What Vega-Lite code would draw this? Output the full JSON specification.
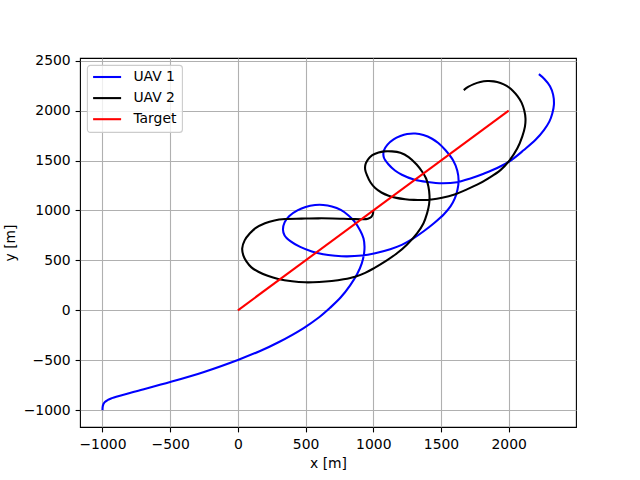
{
  "$schema": "https://vega.github.io/schema/vega-lite/v6.json",
  "width": 496,
  "height": 369,
  "autosize": {"type": "none"},
  "padding": {"left": 80, "top": 58, "right": 64, "bottom": 53},
  "background": "white",
  "config": {
    "view": {"stroke": "black", "strokeWidth": 1.1},
    "font": "DejaVu Sans",
    "axis": {
      "domain": false,
      "grid": true,
      "gridColor": "#b0b0b0",
      "gridWidth": 1.1,
      "ticks": true,
      "tickColor": "black",
      "tickSize": 4.9,
      "tickWidth": 1.1,
      "labelFont": "DejaVu Sans",
      "labelFontSize": 13.9,
      "labelColor": "black",
      "titleFont": "DejaVu Sans",
      "titleFontSize": 13.9,
      "titleFontWeight": "normal",
      "titleColor": "black",
      "format": "d"
    },
    "legend": {
      "orient": "none",
      "legendX": 7,
      "legendY": 7,
      "fillColor": "rgba(255,255,255,0.8)",
      "strokeColor": "#cccccc",
      "strokeWidth": 1.1,
      "cornerRadius": 3,
      "padding": 5,
      "symbolType": "M-1,0H3.75",
      "symbolSize": 139,
      "symbolStrokeWidth": 2.08,
      "labelFont": "DejaVu Sans",
      "labelFontSize": 13.9,
      "labelColor": "black",
      "labelOffset": 27.4,
      "rowPadding": 7.1
    }
  },
  "data": {
    "values": [
      {"series": "UAV 1", "i": 0, "x": -1000, "y": -1000},
      {"series": "UAV 1", "i": 1, "x": -997, "y": -955},
      {"series": "UAV 1", "i": 2, "x": -985, "y": -922},
      {"series": "UAV 1", "i": 3, "x": -960, "y": -898},
      {"series": "UAV 1", "i": 4, "x": -930, "y": -880},
      {"series": "UAV 1", "i": 5, "x": -898, "y": -865},
      {"series": "UAV 1", "i": 6, "x": -750, "y": -810},
      {"series": "UAV 1", "i": 7, "x": -500, "y": -718},
      {"series": "UAV 1", "i": 8, "x": -250, "y": -617},
      {"series": "UAV 1", "i": 9, "x": 0, "y": -497},
      {"series": "UAV 1", "i": 10, "x": 160, "y": -410},
      {"series": "UAV 1", "i": 11, "x": 300, "y": -320},
      {"series": "UAV 1", "i": 12, "x": 483, "y": -180},
      {"series": "UAV 1", "i": 13, "x": 600, "y": -70},
      {"series": "UAV 1", "i": 14, "x": 681, "y": 25},
      {"series": "UAV 1", "i": 15, "x": 760, "y": 130},
      {"series": "UAV 1", "i": 16, "x": 829, "y": 250},
      {"series": "UAV 1", "i": 17, "x": 880, "y": 360},
      {"series": "UAV 1", "i": 18, "x": 915, "y": 470},
      {"series": "UAV 1", "i": 19, "x": 932, "y": 570},
      {"series": "UAV 1", "i": 20, "x": 935, "y": 640},
      {"series": "UAV 1", "i": 21, "x": 928, "y": 720},
      {"series": "UAV 1", "i": 22, "x": 903, "y": 800},
      {"series": "UAV 1", "i": 23, "x": 860, "y": 890},
      {"series": "UAV 1", "i": 24, "x": 817, "y": 950},
      {"series": "UAV 1", "i": 25, "x": 760, "y": 1005},
      {"series": "UAV 1", "i": 26, "x": 694, "y": 1040},
      {"series": "UAV 1", "i": 27, "x": 630, "y": 1055},
      {"series": "UAV 1", "i": 28, "x": 570, "y": 1054},
      {"series": "UAV 1", "i": 29, "x": 500, "y": 1035},
      {"series": "UAV 1", "i": 30, "x": 440, "y": 1000},
      {"series": "UAV 1", "i": 31, "x": 380, "y": 945},
      {"series": "UAV 1", "i": 32, "x": 345, "y": 880},
      {"series": "UAV 1", "i": 33, "x": 333, "y": 810},
      {"series": "UAV 1", "i": 34, "x": 345, "y": 750},
      {"series": "UAV 1", "i": 35, "x": 390, "y": 690},
      {"series": "UAV 1", "i": 36, "x": 460, "y": 635},
      {"series": "UAV 1", "i": 37, "x": 546, "y": 590},
      {"series": "UAV 1", "i": 38, "x": 630, "y": 562},
      {"series": "UAV 1", "i": 39, "x": 718, "y": 547},
      {"series": "UAV 1", "i": 40, "x": 800, "y": 540},
      {"series": "UAV 1", "i": 41, "x": 915, "y": 548},
      {"series": "UAV 1", "i": 42, "x": 1014, "y": 572},
      {"series": "UAV 1", "i": 43, "x": 1125, "y": 612},
      {"series": "UAV 1", "i": 44, "x": 1210, "y": 655},
      {"series": "UAV 1", "i": 45, "x": 1290, "y": 715},
      {"series": "UAV 1", "i": 46, "x": 1372, "y": 792},
      {"series": "UAV 1", "i": 47, "x": 1450, "y": 875},
      {"series": "UAV 1", "i": 48, "x": 1520, "y": 960},
      {"series": "UAV 1", "i": 49, "x": 1570, "y": 1040},
      {"series": "UAV 1", "i": 50, "x": 1602, "y": 1120},
      {"series": "UAV 1", "i": 51, "x": 1622, "y": 1210},
      {"series": "UAV 1", "i": 52, "x": 1630, "y": 1300},
      {"series": "UAV 1", "i": 53, "x": 1620, "y": 1400},
      {"series": "UAV 1", "i": 54, "x": 1590, "y": 1500},
      {"series": "UAV 1", "i": 55, "x": 1532, "y": 1605},
      {"series": "UAV 1", "i": 56, "x": 1480, "y": 1675},
      {"series": "UAV 1", "i": 57, "x": 1434, "y": 1718},
      {"series": "UAV 1", "i": 58, "x": 1370, "y": 1755},
      {"series": "UAV 1", "i": 59, "x": 1310, "y": 1770},
      {"series": "UAV 1", "i": 60, "x": 1250, "y": 1765},
      {"series": "UAV 1", "i": 61, "x": 1200, "y": 1745},
      {"series": "UAV 1", "i": 62, "x": 1150, "y": 1712},
      {"series": "UAV 1", "i": 63, "x": 1105, "y": 1660},
      {"series": "UAV 1", "i": 64, "x": 1078, "y": 1600},
      {"series": "UAV 1", "i": 65, "x": 1078, "y": 1530},
      {"series": "UAV 1", "i": 66, "x": 1113, "y": 1460},
      {"series": "UAV 1", "i": 67, "x": 1160, "y": 1400},
      {"series": "UAV 1", "i": 68, "x": 1211, "y": 1358},
      {"series": "UAV 1", "i": 69, "x": 1300, "y": 1310},
      {"series": "UAV 1", "i": 70, "x": 1400, "y": 1285},
      {"series": "UAV 1", "i": 71, "x": 1508, "y": 1272},
      {"series": "UAV 1", "i": 72, "x": 1619, "y": 1283},
      {"series": "UAV 1", "i": 73, "x": 1717, "y": 1320},
      {"series": "UAV 1", "i": 74, "x": 1815, "y": 1368},
      {"series": "UAV 1", "i": 75, "x": 1915, "y": 1425},
      {"series": "UAV 1", "i": 76, "x": 2020, "y": 1505},
      {"series": "UAV 1", "i": 77, "x": 2112, "y": 1605},
      {"series": "UAV 1", "i": 78, "x": 2200, "y": 1710},
      {"series": "UAV 1", "i": 79, "x": 2260, "y": 1805},
      {"series": "UAV 1", "i": 80, "x": 2300, "y": 1890},
      {"series": "UAV 1", "i": 81, "x": 2322, "y": 1972},
      {"series": "UAV 1", "i": 82, "x": 2334, "y": 2060},
      {"series": "UAV 1", "i": 83, "x": 2328, "y": 2160},
      {"series": "UAV 1", "i": 84, "x": 2305, "y": 2245},
      {"series": "UAV 1", "i": 85, "x": 2265, "y": 2315},
      {"series": "UAV 1", "i": 86, "x": 2223, "y": 2365},

      {"series": "UAV 2", "i": 0, "x": 1000, "y": 1005},
      {"series": "UAV 2", "i": 1, "x": 997, "y": 965},
      {"series": "UAV 2", "i": 2, "x": 985, "y": 935},
      {"series": "UAV 2", "i": 3, "x": 960, "y": 918},
      {"series": "UAV 2", "i": 4, "x": 920, "y": 912},
      {"series": "UAV 2", "i": 5, "x": 841, "y": 914},
      {"series": "UAV 2", "i": 6, "x": 700, "y": 920},
      {"series": "UAV 2", "i": 7, "x": 594, "y": 921},
      {"series": "UAV 2", "i": 8, "x": 470, "y": 918},
      {"series": "UAV 2", "i": 9, "x": 348, "y": 914},
      {"series": "UAV 2", "i": 10, "x": 270, "y": 900},
      {"series": "UAV 2", "i": 11, "x": 200, "y": 871},
      {"series": "UAV 2", "i": 12, "x": 130, "y": 822},
      {"series": "UAV 2", "i": 13, "x": 89, "y": 771},
      {"series": "UAV 2", "i": 14, "x": 50, "y": 700},
      {"series": "UAV 2", "i": 15, "x": 32, "y": 620},
      {"series": "UAV 2", "i": 16, "x": 40, "y": 550},
      {"series": "UAV 2", "i": 17, "x": 64, "y": 487},
      {"series": "UAV 2", "i": 18, "x": 100, "y": 430},
      {"series": "UAV 2", "i": 19, "x": 151, "y": 386},
      {"series": "UAV 2", "i": 20, "x": 220, "y": 345},
      {"series": "UAV 2", "i": 21, "x": 298, "y": 313},
      {"series": "UAV 2", "i": 22, "x": 400, "y": 290},
      {"series": "UAV 2", "i": 23, "x": 496, "y": 280},
      {"series": "UAV 2", "i": 24, "x": 600, "y": 283},
      {"series": "UAV 2", "i": 25, "x": 693, "y": 293},
      {"series": "UAV 2", "i": 26, "x": 780, "y": 310},
      {"series": "UAV 2", "i": 27, "x": 866, "y": 336},
      {"series": "UAV 2", "i": 28, "x": 940, "y": 375},
      {"series": "UAV 2", "i": 29, "x": 1000, "y": 418},
      {"series": "UAV 2", "i": 30, "x": 1100, "y": 500},
      {"series": "UAV 2", "i": 31, "x": 1175, "y": 571},
      {"series": "UAV 2", "i": 32, "x": 1250, "y": 660},
      {"series": "UAV 2", "i": 33, "x": 1323, "y": 771},
      {"series": "UAV 2", "i": 34, "x": 1370, "y": 870},
      {"series": "UAV 2", "i": 35, "x": 1397, "y": 971},
      {"series": "UAV 2", "i": 36, "x": 1412, "y": 1060},
      {"series": "UAV 2", "i": 37, "x": 1415, "y": 1150},
      {"series": "UAV 2", "i": 38, "x": 1407, "y": 1240},
      {"series": "UAV 2", "i": 39, "x": 1390, "y": 1320},
      {"series": "UAV 2", "i": 40, "x": 1360, "y": 1390},
      {"series": "UAV 2", "i": 41, "x": 1320, "y": 1460},
      {"series": "UAV 2", "i": 42, "x": 1261, "y": 1535},
      {"series": "UAV 2", "i": 43, "x": 1200, "y": 1578},
      {"series": "UAV 2", "i": 44, "x": 1138, "y": 1592},
      {"series": "UAV 2", "i": 45, "x": 1080, "y": 1592},
      {"series": "UAV 2", "i": 46, "x": 1039, "y": 1580},
      {"series": "UAV 2", "i": 47, "x": 990, "y": 1552},
      {"series": "UAV 2", "i": 48, "x": 960, "y": 1510},
      {"series": "UAV 2", "i": 49, "x": 942, "y": 1460},
      {"series": "UAV 2", "i": 50, "x": 940, "y": 1410},
      {"series": "UAV 2", "i": 51, "x": 953, "y": 1354},
      {"series": "UAV 2", "i": 52, "x": 980, "y": 1280},
      {"series": "UAV 2", "i": 53, "x": 1014, "y": 1225},
      {"series": "UAV 2", "i": 54, "x": 1060, "y": 1180},
      {"series": "UAV 2", "i": 55, "x": 1113, "y": 1148},
      {"series": "UAV 2", "i": 56, "x": 1170, "y": 1126},
      {"series": "UAV 2", "i": 57, "x": 1236, "y": 1113},
      {"series": "UAV 2", "i": 58, "x": 1300, "y": 1106},
      {"series": "UAV 2", "i": 59, "x": 1360, "y": 1104},
      {"series": "UAV 2", "i": 60, "x": 1430, "y": 1110},
      {"series": "UAV 2", "i": 61, "x": 1508, "y": 1127},
      {"series": "UAV 2", "i": 62, "x": 1600, "y": 1160},
      {"series": "UAV 2", "i": 63, "x": 1680, "y": 1204},
      {"series": "UAV 2", "i": 64, "x": 1767, "y": 1258},
      {"series": "UAV 2", "i": 65, "x": 1850, "y": 1322},
      {"series": "UAV 2", "i": 66, "x": 1939, "y": 1404},
      {"series": "UAV 2", "i": 67, "x": 2005, "y": 1500},
      {"series": "UAV 2", "i": 68, "x": 2063, "y": 1620},
      {"series": "UAV 2", "i": 69, "x": 2100, "y": 1740},
      {"series": "UAV 2", "i": 70, "x": 2120, "y": 1840},
      {"series": "UAV 2", "i": 71, "x": 2124, "y": 1920},
      {"series": "UAV 2", "i": 72, "x": 2115, "y": 2000},
      {"series": "UAV 2", "i": 73, "x": 2095, "y": 2080},
      {"series": "UAV 2", "i": 74, "x": 2065, "y": 2145},
      {"series": "UAV 2", "i": 75, "x": 2030, "y": 2200},
      {"series": "UAV 2", "i": 76, "x": 1985, "y": 2248},
      {"series": "UAV 2", "i": 77, "x": 1939, "y": 2277},
      {"series": "UAV 2", "i": 78, "x": 1890, "y": 2293},
      {"series": "UAV 2", "i": 79, "x": 1841, "y": 2296},
      {"series": "UAV 2", "i": 80, "x": 1790, "y": 2286},
      {"series": "UAV 2", "i": 81, "x": 1742, "y": 2265},
      {"series": "UAV 2", "i": 82, "x": 1700, "y": 2237},
      {"series": "UAV 2", "i": 83, "x": 1668, "y": 2205},

      {"series": "Target", "i": 0, "x": 0, "y": 0},
      {"series": "Target", "i": 1, "x": 2000, "y": 2000}
    ]
  },
  "encoding": {
    "x": {
      "field": "x", "type": "quantitative", "title": "x [m]",
      "scale": {"domain": [-1166, 2497], "nice": false, "zero": false},
      "axis": {"values": [-1000, -500, 0, 500, 1000, 1500, 2000], "labelPadding": 5.5, "titlePadding": 5}
    },
    "y": {
      "field": "y", "type": "quantitative", "title": "y [m]",
      "scale": {"domain": [-1169, 2527], "nice": false, "zero": false},
      "axis": {"values": [-1000, -500, 0, 500, 1000, 1500, 2000, 2500], "labelPadding": 4.9, "titlePadding": 5.6}
    },
    "order": {"field": "i", "type": "quantitative"},
    "color": {
      "field": "series", "type": "nominal",
      "scale": {"domain": ["UAV 1", "UAV 2", "Target"], "range": ["#0000ff", "#000000", "#ff0000"]},
      "legend": {"title": null}
    }
  },
  "layer": [
    {"transform": [{"filter": "datum.series === 'UAV 1'"}], "mark": {"type": "line", "strokeWidth": 2.08, "clip": true, "interpolate": "catmull-rom"}},
    {"transform": [{"filter": "datum.series === 'UAV 2'"}], "mark": {"type": "line", "strokeWidth": 2.08, "clip": true, "interpolate": "catmull-rom"}},
    {"transform": [{"filter": "datum.series === 'Target'"}], "mark": {"type": "line", "strokeWidth": 2.08, "clip": true}}
  ]
}
